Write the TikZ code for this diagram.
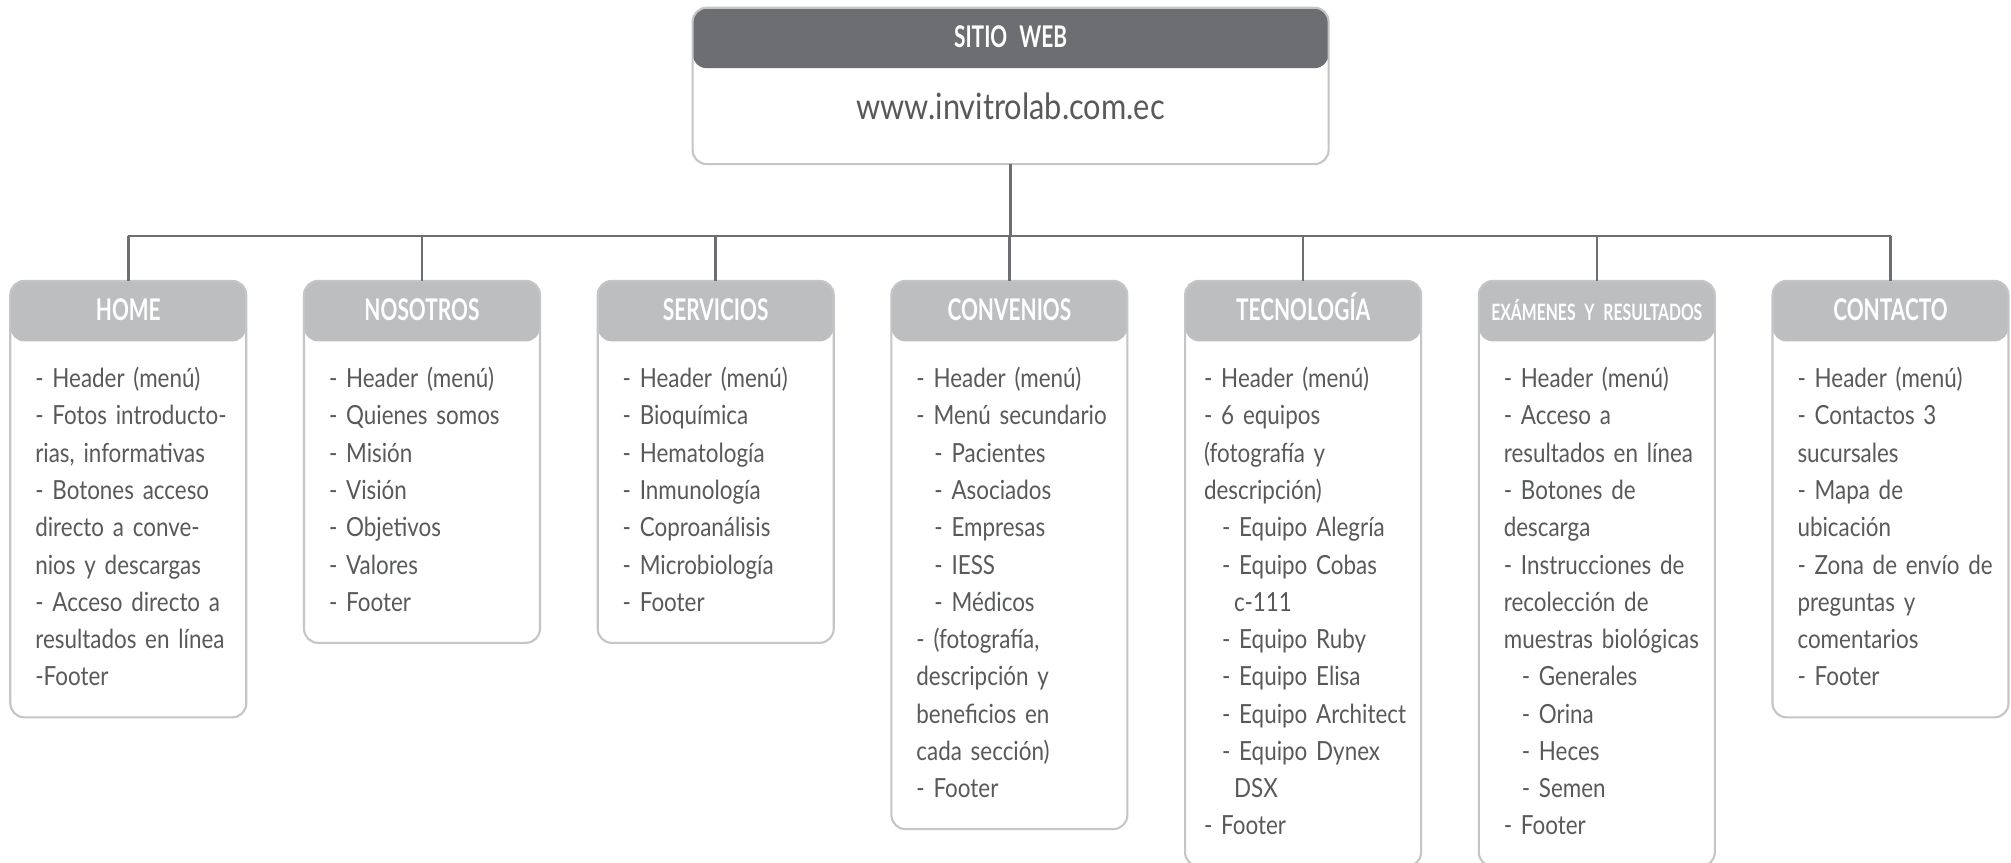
\documentclass[tikz,border=0pt]{standalone}
\usepackage{fontspec}
\setmainfont{Lato}[FakeStretch=0.85]
\newfontfamily\titlefont{Lato}[FakeStretch=0.7]
\usepackage{tikz}
\usetikzlibrary{positioning}
\definecolor{headdark}{HTML}{6D6E71}
\definecolor{headlight}{HTML}{BCBEC0}
\definecolor{boxline}{HTML}{C4C5C8}
\definecolor{linkgray}{HTML}{6D6E71}
\definecolor{textgray}{HTML}{58595B}
\newcommand{\sectitle}[1]{{\centering\rule{0pt}{5.6pt}\smash{\color{white}\titlefont\fontsize{8.5}{9.6}\selectfont\bfseries #1}\par}}
\newcommand{\secbody}[1][1.5mm]{\vspace{8.4pt}\leftskip=#1\relax}
\newcommand{\subsp}{\hspace*{1.8mm}}
\tikzset{
    block_web/.style={rectangle, draw=boxline, line width=0.6pt, outer sep=0pt, rounded corners=4pt, fill=white, text width=5.92cm, inner xsep=0.22cm, inner ysep=5.8pt, align=center, text=textgray, font=\fontsize{10.3}{12}\selectfont,
        path picture={\fill[headdark] (path picture bounding box.north west) rectangle ([yshift=-0.605cm]path picture bounding box.north east);}},
    block_sec/.style={rectangle, draw=boxline, line width=0.6pt, outer sep=0pt, rounded corners=4pt, fill=white, text width=2.16cm, inner xsep=0.1cm, inner ysep=5.8pt, align=left, text=textgray, font=\fontsize{7.5}{10.6}\selectfont,
        path picture={\fill[headlight] (path picture bounding box.north west) rectangle ([yshift=-0.605cm]path picture bounding box.north east);}},
    link/.style={draw=linkgray, line width=0.7pt}
}

\begin{document}
\begin{tikzpicture}[node distance=0.577cm]
\useasboundingbox (0,-8.63) rectangle (20.11,0);

\node (web) [block_web, anchor=north] at (10.106,-0.077) {\sectitle{SITIO WEB}\vspace{8.3pt}www.invitrolab.com.ec\rule[-7pt]{0pt}{7pt}};

\node (home) [block_sec, anchor=north west] at (0.103,-2.809) {\sectitle{HOME}\secbody - Header (menú)\\- Fotos introducto-\\rias, informativas\\- Botones acceso\\directo a conve-\\nios y descargas\\- Acceso directo a\\resultados en línea\\-Footer\strut\par};
\node (nos) [block_sec, right=of home.north east, anchor=north west] {\sectitle{NOSOTROS}\secbody - Header (menú)\\- Quienes somos\\- Misión\\- Visión\\- Objetivos\\- Valores\\- Footer\strut\par};
\node (serv) [block_sec, right=of nos.north east, anchor=north west] {\sectitle{SERVICIOS}\secbody - Header (menú)\\- Bioquímica\\- Hematología\\- Inmunología\\- Coproanálisis\\- Microbiología\\- Footer\strut\par};
\node (conv) [block_sec, right=of serv.north east, anchor=north west] {\sectitle{CONVENIOS}\secbody - Header (menú)\\- Menú secundario\\\subsp- Pacientes\\\subsp- Asociados\\\subsp- Empresas\\\subsp- IESS\\\subsp- Médicos\\- (fotografía,\\descripción y\\beneficios en\\cada sección)\\- Footer\strut\par};
\node (tec) [block_sec, right=of conv.north east, anchor=north west] {\sectitle{TECNOLOGÍA}\secbody[0.9mm] - Header (menú)\\- 6 equipos\\(fotografía y\\descripción)\\\subsp- Equipo Alegría\\\subsp- Equipo Cobas\\\hspace*{3mm}c-111\\\subsp- Equipo Ruby\\\subsp- Equipo Elisa\\\subsp- Equipo Architect\\\subsp- Equipo Dynex\\\hspace*{3mm}DSX\\- Footer\strut\par};
\node (exam) [block_sec, right=of tec.north east, anchor=north west] {\sectitle{\fontsize{6.4}{7}\selectfont EXÁMENES Y RESULTADOS}\secbody - Header (menú)\\- Acceso a\\resultados en línea\\- Botones de\\descarga\\- Instrucciones de\\recolección de\\muestras biológicas\\\subsp- Generales\\\subsp- Orina\\\subsp- Heces\\\subsp- Semen\\- Footer\strut\par};
\node (cont) [block_sec, right=of exam.north east, anchor=north west] {\sectitle{CONTACTO}\secbody - Header (menú)\\- Contactos 3\\sucursales\\- Mapa de\\ubicación\\- Zona de envío de\\preguntas y\\comentarios\\- Footer\strut\par};

\coordinate (bar) at (0,-2.36);
\draw [link] (web.south) -- (web.south |- bar);
\draw [link] (home.north |- bar) -- (cont.north |- bar);
\draw [link] (home.north) -- (home.north |- bar);
\draw [link] (nos.north) -- (nos.north |- bar);
\draw [link] (serv.north) -- (serv.north |- bar);
\draw [link] (conv.north) -- (conv.north |- bar);
\draw [link] (tec.north) -- (tec.north |- bar);
\draw [link] (exam.north) -- (exam.north |- bar);
\draw [link] (cont.north) -- (cont.north |- bar);
\end{tikzpicture}
\end{document}
